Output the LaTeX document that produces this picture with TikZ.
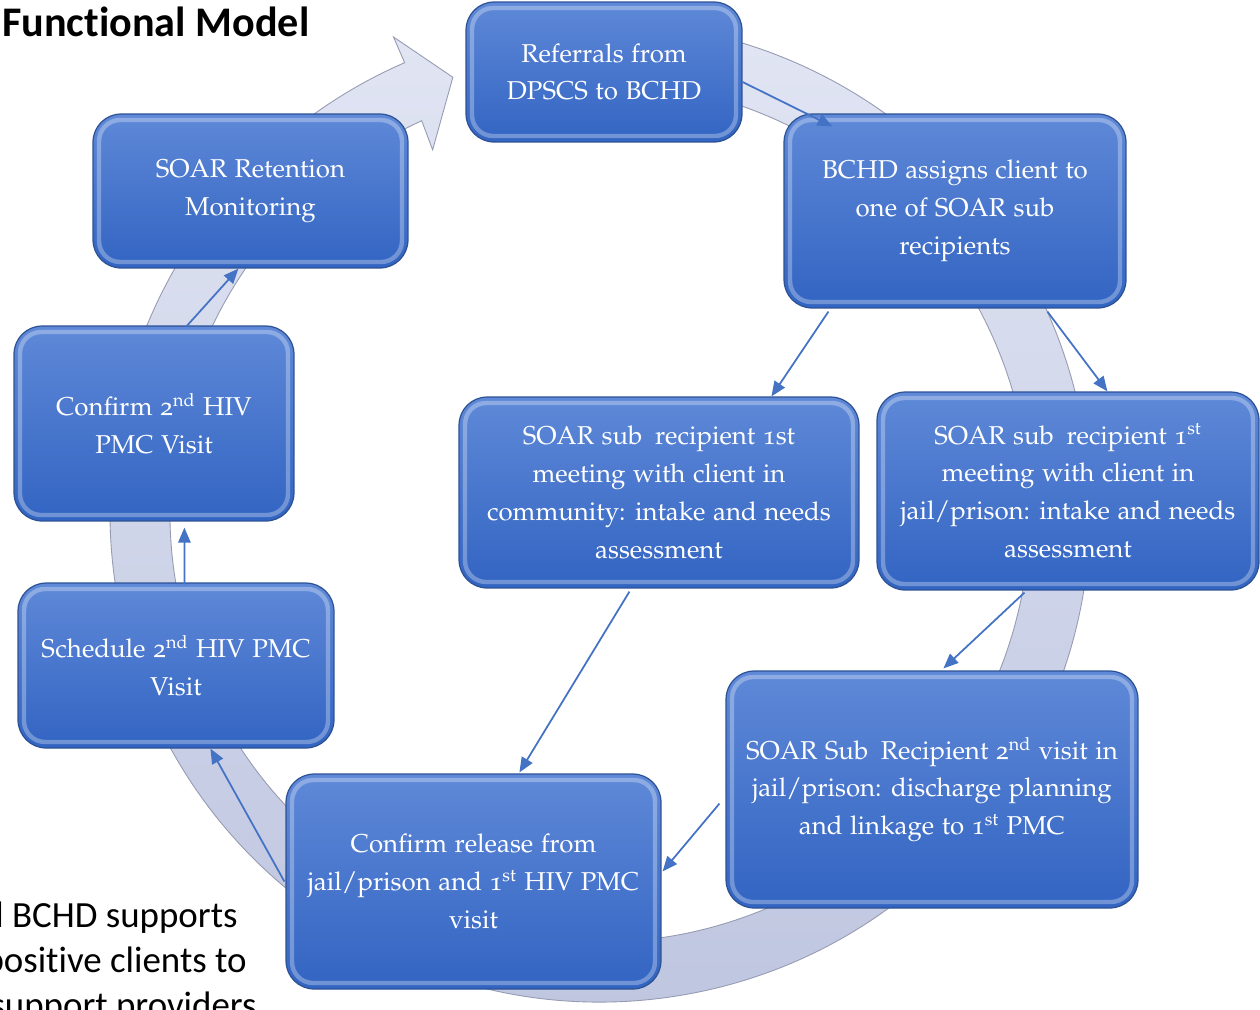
\documentclass[tikz,border=0pt]{standalone}
\usepackage[T1]{fontenc}
\usepackage{fontspec}
\newfontfamily\calibri{Carlito}[Ligatures=NoCommon]
\usetikzlibrary{arrows.meta,calc}
\newcommand\palfont{\fontencoding{T1}\fontfamily{pplj}\fontsize{14.7pt}{21.5pt}\selectfont}
\definecolor{boxtop}{RGB}{95,137,216}
\definecolor{boxbot}{RGB}{50,100,194}
\definecolor{boxedge}{RGB}{45,82,148}
\definecolor{conncol}{RGB}{68,114,196}
\definecolor{ringtop}{RGB}{226,230,244}
\definecolor{ringbot}{RGB}{190,197,223}
\definecolor{ringedge}{RGB}{150,155,178}
\tikzset{
  box/.style={draw=boxedge, line width=0.7pt, rounded corners=16pt,
    top color=boxtop, bottom color=boxbot, text=white, align=center,
    font=\palfont, inner sep=0pt,
    path picture={
      \draw[white, opacity=0.3, line width=2.5pt, rounded corners=12pt]
        ($(path picture bounding box.north west)+(6,6)$) rectangle
        ($(path picture bounding box.south east)+(-6,-6)$);}},
  conn/.style={draw=conncol, line width=1pt, -{Triangle[length=8.5pt,width=7pt]}, conncol},
  ring/.style={top color=ringtop, bottom color=ringbot, draw=ringedge, line width=0.5pt}
}
\begin{document}
\begin{tikzpicture}[x=0.02cm, y=-0.02cm]
\clip (0,0) rectangle (1260,1009);
\fill[white] (0,0) rectangle (1260,1009);

% circular arrow
\coordinate (c) at (600,512);
\path[ring] (c) ++(-100:490) arc[start angle=-100, end angle=246.5, radius=490]
  -- ($(c)+(246.5:518)$) -- ($(c)+(251.3:459)$) -- ($(c)+(245.2:399)$)
  -- ($(c)+(245.5:430)$) arc[start angle=245.5, end angle=-100, radius=430] -- cycle;

% title and side text
\node[anchor=base west, font=\calibri\bfseries\fontsize{24pt}{28pt}\selectfont, inner sep=0pt] (title) at (2,36) {Functional Model};
\node[anchor=base east, font=\calibri\fontsize{21pt}{25pt}\selectfont, inner sep=0pt] (t1) at (238,927) {and BCHD supports};
\node[anchor=base east, font=\calibri\fontsize{21pt}{25pt}\selectfont, inner sep=0pt] (t2) at (247,972) {positive clients to};
\node[anchor=base east, font=\calibri\fontsize{21pt}{25pt}\selectfont, inner sep=0pt] (t3) at (257,1017) {support providers};

% boxes
\node[box, minimum width=5.52cm, minimum height=2.8cm] (ref) at (604,72) {Referrals from\\DPSCS to BCHD};
\node[box, minimum width=6.84cm, minimum height=3.88cm] (bchd) at (955,211) {BCHD assigns client to\\one of SOAR sub\\recipients};
\node[box, minimum width=8.0cm, minimum height=3.82cm] (comm) at (659,492.5) {SOAR sub\hspace{0.2em} recipient 1st\\meeting with client in\\community: intake and needs\\assessment};
\node[box, minimum width=7.64cm, minimum height=3.96cm] (jail) at (1068,491) {SOAR sub\hspace{0.2em} recipient 1\textsuperscript{st}\\meeting with client in\\jail/prison: intake and needs\\assessment};
\node[box, minimum width=8.24cm, minimum height=4.74cm] (visit) at (932,789.5) {SOAR Sub\hspace{0.2em} Recipient 2\textsuperscript{nd} visit in\\jail/prison: discharge planning\\and linkage to 1\textsuperscript{st} PMC};
\node[box, minimum width=7.5cm, minimum height=4.3cm] (rel) at (473.5,881.5) {Confirm release from\\jail/prison and 1\textsuperscript{st} HIV PMC\\visit};
\node[box, minimum width=6.32cm, minimum height=3.3cm] (sched) at (176,665.5) {Schedule 2\textsuperscript{nd} HIV PMC\\Visit};
\node[box, minimum width=5.6cm, minimum height=3.9cm] (conf) at (154,423.5) {Confirm 2\textsuperscript{nd} HIV\\PMC Visit};
\node[box, minimum width=6.3cm, minimum height=3.08cm] (ret) at (250.5,191) {SOAR Retention\\Monitoring};

% connectors
\draw[conn] ($(ref.east)+(0,10)$) -- ($(bchd.north west)+(49,13)$);
\draw[conn] ($(bchd.south west)+(45,3)$) -- ($(comm.north west)+(313,0)$);
\draw[conn] ($(bchd.south west)+(264,3)$) -- ($(jail.north west)+(231,0)$);
\draw[conn] ($(jail.south west)+(148,2)$) -- ($(visit.north west)+(218,-2)$);
\draw[conn] ($(visit.south west)+(-6,-105)$) -- ($(rel.north east)+(1,98)$);
\draw[conn] ($(comm.south west)+(171,3)$) -- ($(rel.north west)+(234,-1)$);
\draw[conn] ($(rel.west)+(-1,0)$) -- ($(sched.south west)+(193,0)$);
\draw[conn] ($(sched.north west)+(167,2)$) -- ($(conf.south west)+(171,6)$);
\draw[conn] ($(conf.north west)+(173,1)$) -- ($(ret.south west)+(146,0)$);
\end{tikzpicture}
\end{document}
